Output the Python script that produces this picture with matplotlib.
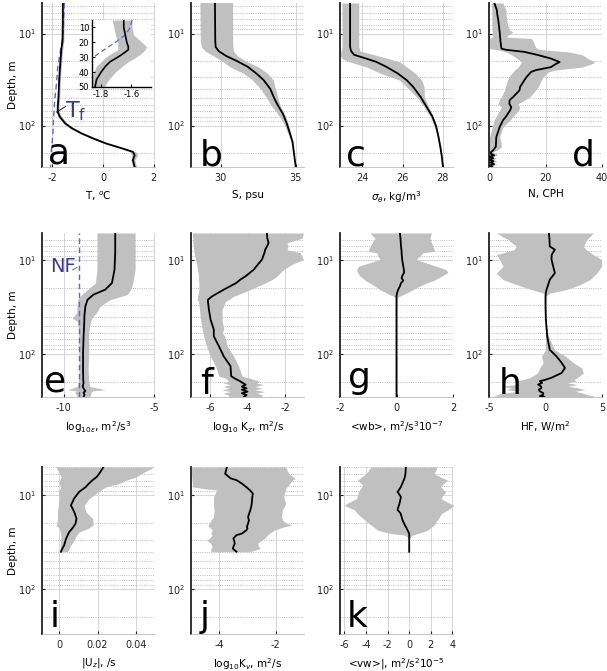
import matplotlib
matplotlib.use("Agg")
import matplotlib.pyplot as plt
from matplotlib.ticker import FixedLocator, NullFormatter, LogLocator

plt.rcParams['font.family'] = ['DejaVu Sans']
plt.rcParams['font.size'] = 7
plt.rcParams['mathtext.fontset'] = 'dejavusans'

# ---- data ----
# a: temperature
a_depth = [4.65, 7, 12, 15, 19.5, 25, 35, 49, 63, 71, 80, 95, 107, 122, 138, 157, 178, 193, 209, 238, 282]
a_mean = [-1.58, -1.58, -1.59, -1.64, -1.67, -1.70, -1.73, -1.75, -1.78, -1.78, -1.70, -1.48, -1.22, -0.83, -0.38, 0.14, 0.79, 1.18, 1.25, 1.18, 1.25]
a_lo = [-1.63, -1.63, -1.64, -1.69, -1.72, -1.75, -1.78, -1.80, -1.83, -1.84, -1.77, -1.56, -1.30, -0.92, -0.47, 0.05, 0.69, 1.06, 1.13, 1.10, 1.17]
a_hi = [-1.53, -1.53, -1.54, -1.59, -1.62, -1.65, -1.68, -1.70, -1.73, -1.72, -1.63, -1.40, -1.14, -0.74, -0.29, 0.23, 0.89, 1.30, 1.37, 1.26, 1.33]
tf_depth = [4.65, 10, 15.2, 23, 35, 53, 80, 122, 185, 282]
tf_vals = [-1.52, -1.57, -1.67, -1.78, -1.83, -1.90, -1.94, -1.97, -2.03, -2.06]

# inset of a (linear depth 5-50 m)
ins_depth = [5, 10, 15, 20, 23, 25, 28, 30, 33, 36, 40, 45, 50]
ins_mean = [-1.65, -1.65, -1.64, -1.63, -1.62, -1.62, -1.66, -1.69, -1.74, -1.77, -1.80, -1.83, -1.84]
ins_lo = [-1.727, -1.716, -1.705, -1.69, -1.69, -1.69, -1.74, -1.77, -1.80, -1.83, -1.85, -1.86, -1.86]
ins_hi = [-1.596, -1.596, -1.585, -1.53, -1.50, -1.51, -1.54, -1.57, -1.62, -1.66, -1.705, -1.75, -1.78]
ins_tf_depth = [5, 10, 15, 20, 25, 30, 35]
ins_tf = [-1.596, -1.607, -1.64, -1.705, -1.78, -1.85, -1.92]

# b: salinity
b_depth = [4.6, 12, 14, 15.5, 17.5, 20, 23, 27, 32, 40, 50, 60, 75, 95, 120, 150, 200, 282]
b_mean = [29.6, 29.62, 29.65, 29.85, 30.35, 31.1, 31.8, 32.35, 32.85, 33.3, 33.55, 33.8, 34.15, 34.4, 34.6, 34.78, 34.88, 35.0]
b_lo = [28.6, 28.62, 28.7, 28.95, 29.5, 30.1, 30.6, 31.5, 32.1, 32.65, 33.05, 33.35, 33.8, 34.2, 34.45, 34.7, 34.88, 35.0]
b_hi = [30.78, 30.78, 30.8, 30.85, 31.1, 31.7, 32.5, 33.1, 33.5, 33.65, 33.8, 33.95, 34.25, 34.5, 34.65, 34.82, 34.9, 35.0]

# c: potential density
c_depth = [4.65, 14, 15.5, 17, 18.7, 20.3, 23, 27, 32, 38, 49, 63, 80, 103, 133, 170, 220, 282]
c_mean = [23.4, 23.4, 23.45, 23.6, 24.2, 24.7, 25.2, 25.75, 26.2, 26.53, 26.9, 27.2, 27.48, 27.67, 27.78, 27.87, 27.95, 28.0]
c_lo = [23.0, 23.0, 22.95, 22.9, 23.0, 23.37, 24.2, 24.9, 25.85, 26.2, 26.7, 27.07, 27.37, 27.58, 27.73, 27.86, 27.95, 28.0]
c_hi = [23.83, 23.83, 23.9, 24.6, 25.3, 25.87, 26.2, 26.62, 26.95, 27.07, 27.08, 27.3, 27.53, 27.7, 27.8, 27.9, 27.96, 28.0]

# d: buoyancy frequency
d_depth = [4.65, 5.6, 6.1, 7.2, 8.1, 9.2, 9.6, 10.9, 11.3, 11.8, 13, 14, 14.6, 15.0, 15.8, 17.0, 18.7, 20.4,
           21.5, 23.1, 25, 26.1, 29.6, 32.2, 38, 41.4, 49, 53, 58, 63, 68, 74, 80, 87, 103, 133, 150, 170,
           185, 193, 202, 210, 218, 226, 235, 244, 252, 262, 272, 282]
d_mean = [1.9, 2.8, 2.9, 3.3, 3.5, 3.7, 3.8, 3.9, 4.0, 4.0, 4.2, 4.3, 4.5, 6.0, 12.5, 17, 22, 25,
          23.5, 22, 16.5, 14.9, 13.3, 12.5, 11, 10.8, 8.5, 7.3, 7.2, 7.9, 7.5, 6.7, 6.0, 5.0, 3.8, 2.6, 2.5, 2.4,
          1.5, 0.8, 0.6, 1.8, 0.3, 1.5, 0.2, 1.6, 0.4, 1.8, 0.3, 1.2]
d_lo = [0.8, 1.0, 1.0, 1.0, 1.0, 1.1, 1.2, 1.2, 0.2, 0.2, 0.2, 0.2, 0.3, 3.0, 6.0, 8.0, 10.0, 11.5,
        11.0, 10.3, 9.0, 8.5, 7.0, 6.5, 5.8, 5.5, 4.3, 3.6, 3.2, 4.4, 3.8, 3.0, 2.6, 1.8, 1.2, 0.2, 0.1, 0,
        0, 0, 0, 0, 0, 0, 0, 0, 0, 0, 0, 0]
d_hi = [4.9, 6.0, 6.0, 6.3, 6.6, 7.5, 8.4, 6.0, 15.0, 15.5, 16.0, 16.5, 17.0, 19.0, 28.0, 33.0, 35.0, 37.5,
        36.0, 33.0, 23.0, 21.0, 19.2, 18.5, 17.4, 16.5, 14.4, 12.5, 10.3, 10.9, 10.5, 9.5, 8.5, 7.5, 5.0, 3.8, 4.2, 4.4,
        3.0, 1.4, 2.5, 3.0, 1.2, 2.6, 1.5, 3.0, 1.0, 2.8, 1.2, 2.0]

# e: log10 epsilon
e_depth = [5.1, 8.3, 12.6, 17.5, 20.6, 23.3, 26.4, 31, 36.6, 41.5, 44.7, 55, 65, 98, 148, 190, 206, 225, 243, 250, 262, 275, 291]
e_mean = [-7.15, -7.15, -7.19, -7.33, -7.7, -8.35, -8.68, -8.8, -8.84, -8.86, -8.86, -8.88, -8.9, -8.93, -8.93, -8.92, -8.9, -8.95, -8.86, -8.8, -8.9, -8.85, -8.9]
e_lo = [-8.16, -8.16, -8.16, -8.25, -8.68, -9.0, -9.23, -9.26, -9.28, -9.54, -9.26, -9.17, -9.17, -9.15, -9.15, -9.17, -9.2, -9.25, -9.8, -9.3, -9.4, -9.3, -9.25]
e_hi = [-6.05, -6.05, -6.05, -6.18, -6.29, -6.5, -7.43, -7.98, -8.2, -8.44, -8.5, -8.6, -8.62, -8.62, -8.65, -8.62, -8.6, -8.55, -7.7, -8.4, -8.5, -8.5, -8.6]
e_noise = -9.15

# f: log10 Kz
f_depth = [5.1, 5.8, 6.5, 7.0, 7.7, 8.3, 9.8, 11.1, 12.6, 14.8, 16.1, 17.5, 20.6, 24.3, 26.4, 27.5, 33.7, 43.2,
           55, 60, 65, 83, 107, 136, 174, 183, 198, 206, 215, 225, 235, 243, 255, 265, 278, 291]
f_mean = [-2.97, -2.95, -2.88, -2.95, -3.06, -3.1, -3.23, -3.45, -3.67, -4.1, -4.38, -4.6, -5.26, -5.88, -6.1, -6.1, -6.05, -5.96,
          -5.79, -5.79, -5.79, -5.52, -5.26, -4.9, -4.87, -4.7, -4.38, -4.25, -4.1, -4.3, -4.05, -4.3, -4.0, -4.3, -4.05, -4.2]
f_lo = [-6.93, -6.9, -6.9, -6.88, -6.85, -6.84, -6.75, -6.7, -6.65, -6.6, -6.6, -6.58, -6.58, -6.65, -6.67, -6.6, -6.55, -6.49,
        -6.4, -6.36, -6.32, -6.18, -5.96, -5.7, -5.52, -5.17, -5.0, -5.3, -4.9, -5.3, -4.95, -5.35, -4.9, -5.3, -5.0, -5.0]
f_hi = [-1.03, -1.1, -1.91, -1.85, -1.9, -1.2, -1.03, -1.65, -2.09, -2.44, -2.7, -3.06, -3.85, -4.73, -5.0, -5.17, -5.35, -5.35,
        -5.26, -5.35, -5.2, -5.08, -4.73, -4.47, -4.29, -3.9, -3.32, -3.5, -3.15, -3.6, -3.2, -3.6, -3.1, -3.5, -3.2, -3.3]

# g: <wb>
g_depth = [5.1, 5.8, 7.1, 8.0, 8.3, 9.8, 11.6, 12.6, 13.5, 14.8, 15.5, 16.5, 17.5, 19.0, 20.6, 22.4, 23.3, 24.3, 25.3, 30, 291]
g_mean = [0.12, 0.14, 0.16, 0.18, 0.18, 0.2, 0.24, 0.26, 0.27, 0.2, 0.18, 0.24, 0.16, 0.12, 0.06, 0.02, 0.01, 0.0, 0.0, 0.0, 0.0]
g_lo = [-0.94, -0.76, -0.94, -1.0, -0.7, -0.59, -1.35, -1.41, -1.38, -1.29, -1.2, -1.1, -0.94, -0.75, -0.59, -0.35, -0.24, -0.1, -0.02, 0, 0]
g_hi = [1.24, 1.18, 1.29, 1.35, 0.94, 0.7, 1.41, 1.76, 1.82, 1.6, 1.47, 1.3, 1.06, 0.8, 0.59, 0.35, 0.24, 0.1, 0.02, 0, 0]

# h: heat flux
h_depth = [5.1, 6.0, 7.1, 7.7, 8.7, 9.8, 11.6, 13.7, 16.1, 18.2, 20.6, 22.4, 24.3, 31, 43, 65, 91, 107, 125, 142, 161,
           181, 190, 197, 205, 214, 224, 233, 243, 253, 264, 275, 284, 291]
h_mean = [0.3, 0.35, 0.38, 0.83, 0.55, 0.53, 0.68, 0.83, 0.38, 0.24, 0.09, 0.03, 0.0, 0.0, 0.03, 0.15, 0.38, 0.98, 1.42, 1.72, 1.42,
          0.53, 0.0, -0.5, -0.3, -0.65, -0.4, -0.36, -0.6, -0.5, -0.2, -0.2, -0.5, -0.1]
h_lo = [-4.35, -3.31, -2.57, -2.8, -4.35, -4.05, -3.76, -4.35, -3.76, -2.57, -1.24, -0.2, -0.05, 0.0, 0.0, 0.0, 0.0, -0.36, -0.2, -0.5, -0.7,
        -1.39, -2.0, -2.87, -2.4, -2.6, -4.05, -3.0, -3.5, -2.2, -3.8, -4.3, -4.6, -3.5]
h_hi = [4.23, 3.64, 3.35, 3.6, 4.23, 4.97, 4.97, 4.53, 3.93, 3.05, 1.86, 0.38, 0.05, 0.0, 0.05, 0.25, 0.8, 1.8, 2.46, 3.2, 3.35,
        2.8, 2.5, 2.75, 1.9, 2.8, 2.0, 2.9, 3.5, 2.6, 3.3, 3.7, 4.3, 4.0]

# i: |Uz|
i_depth = [5.0, 5.8, 6.4, 6.9, 7.5, 8.15, 9.2, 10.8, 12.8, 15.0, 17.7, 20.0, 20.8, 22.6, 24.6, 27.8, 30.1, 34.0, 37.8, 40.0]
i_mean = [0.0231, 0.0211, 0.0195, 0.0174, 0.0155, 0.0139, 0.0104, 0.0078, 0.0061, 0.0078, 0.009, 0.0085, 0.008, 0.0068, 0.0052, 0.004, 0.0033, 0.0026, 0.0014, 0.0009]
i_lo = [-0.0017, 0.0, 0.0009, 0.0003, 0.0, 0.0009, -0.0005, 0.0, -0.0005, -0.0009, -0.0009, -0.0012, -0.0017, 0.0, 0.0005, 0.0009, 0.0007, 0.0005, 0.0005, 0.0005]
i_hi = [0.0496, 0.0435, 0.04, 0.035, 0.0313, 0.0243, 0.0205, 0.0157, 0.013, 0.0139, 0.0174, 0.0177, 0.0177, 0.015, 0.0104, 0.0085, 0.0078, 0.0061, 0.005, 0.0043]

# j: log10 Kv
j_depth = [5.0, 5.9, 6.6, 6.9, 7.5, 8.15, 8.5, 8.8, 9.6, 10.4, 12.3, 13.3, 14.4, 17.0, 18.5, 20.0, 20.8, 21.7, 22.6, 23.6,
           25.6, 26.6, 28.9, 30.0, 32.7, 35.4, 37.0, 40.0]
j_mean = [-3.73, -3.79, -3.6, -3.39, -3.2, -3.05, -2.98, -2.92, -2.81, -2.83, -2.85, -2.87, -2.9, -2.98, -2.95, -2.98, -3.0, -3.02, -3.0, -3.04,
          -3.2, -3.39, -3.5, -3.48, -3.45, -3.5, -3.52, -3.39]
j_lo = [-4.98, -4.98, -4.97, -4.96, -4.95, -4.95, -4.54, -4.08, -4.15, -4.2, -4.2, -4.2, -4.18, -4.2, -4.3, -4.35, -4.4, -4.37, -4.3, -4.25,
        -4.3, -4.25, -4.35, -4.43, -4.3, -4.25, -4.3, -4.3]
j_hi = [-1.65, -1.54, -1.31, -1.4, -1.5, -1.6, -1.65, -1.65, -1.7, -1.72, -1.65, -1.7, -1.77, -1.8, -1.75, -1.6, -1.42, -1.7, -1.88, -2.05,
        -2.23, -2.3, -2.4, -2.5, -2.64, -2.6, -2.55, -2.92]

# k: <vw>
k_depth = [5.0, 5.9, 6.4, 6.9, 7.8, 8.15, 8.8, 9.2, 10.4, 10.9, 12.3, 12.8, 14.3, 15.6, 17.0, 18.4, 20.8, 21.7, 23.6, 25.6, 26.6, 28.9, 40.0]
k_mean = [-0.31, -0.35, -0.4, -0.5, -0.7, -0.77, -0.95, -1.08, -0.77, -0.8, -0.9, -0.95, -1.08, -0.8, -0.7, -0.62, -0.4, -0.31, -0.15, 0.0, 0.0, 0.0, 0.0]
k_lo = [-3.54, -4.0, -4.4, -4.77, -4.3, -4.4, -4.6, -4.7, -4.8, -4.9, -5.8, -6.0, -5.08, -4.8, -4.46, -4.1, -3.54, -3.3, -2.92, -1.69, -0.4, 0.0, 0.0]
k_hi = [2.6, 2.3, 2.9, 3.54, 3.0, 2.92, 3.2, 3.38, 3.0, 2.95, 3.8, 4.15, 3.6, 3.0, 2.8, 2.6, 2.3, 2.1, 1.69, 0.77, 0.3, 0.0, 0.0]

# ---- layout ----
W, H = 607, 671
BAND = '#c0c0c0'
DASH = '#6464cc'
BLUE = '#3c3c8c'
LETTER_FONT = ['Liberation Sans Narrow', 'DejaVu Sans']

fig = plt.figure(figsize=(W / 100, H / 100), dpi=100)


def px_axes(left, top, width, bottom):
    return fig.add_axes([left / W, 1 - bottom / H, width / W, (bottom - top) / H])


def profile(ax, depth, mean, lo, hi, xlim, xticks, xlabel, letter, ylim,
            letter_pos=(0.05, 0.02), letter_ha='left', ylabel=False):
    ax.fill_betweenx(depth, lo, hi, color=BAND, lw=0, zorder=1)
    ax.plot(mean, depth, color='k', lw=1.3, zorder=3)
    ax.set_yscale('log')
    ax.set_ylim(ylim)
    ax.set_xlim(xlim)
    ax.set_xticks(xticks)
    ax.set_xticklabels([str(t) for t in xticks])
    ax.yaxis.set_major_locator(FixedLocator([10, 100]))
    ax.yaxis.set_minor_locator(LogLocator(base=10, subs=range(2, 10)))
    ax.yaxis.set_minor_formatter(NullFormatter())
    ax.set_axisbelow(True)
    ax.grid(True, which='major', axis='both', color='#d6d6d6', lw=0.7, ls='-')
    ax.grid(True, which='minor', axis='y', color='#a8a8a8', lw=0.6, ls=':')
    for s in ['top', 'right']:
        ax.spines[s].set_visible(False)
    ax.spines['left'].set_color('#222222')
    ax.spines['left'].set_linewidth(1.3)
    ax.spines['bottom'].set_color('#bbbbbb')
    ax.spines['bottom'].set_linewidth(0.6)
    ax.tick_params(axis='both', which='major', length=2, direction='in', labelsize=7, pad=4, colors='#222222')
    ax.tick_params(axis='y', which='minor', length=0)
    ax.set_xlabel(xlabel, fontsize=7.5, labelpad=5)
    if ylabel:
        ax.set_ylabel('Depth, m', fontsize=7.5, labelpad=0)
    ax.text(letter_pos[0], letter_pos[1], letter, transform=ax.transAxes, fontsize=26,
            family=LETTER_FONT, ha=letter_ha, va='baseline', zorder=5)


lefts = [42, 191, 340, 489]
PW = 113
row1, row2, row3 = (3, 167), (233, 397), (467, 634)
yl1, yl2, yl3 = (282, 4.65), (291, 5.1), (301, 5.0)

ax_a = px_axes(lefts[0], row1[0], PW, row1[1])
profile(ax_a, a_depth, a_mean, a_lo, a_hi, (-2.4, 2.05), [-2, 0, 2], r'T, $^o$C', 'a', yl1,
        letter_pos=(0.053, 0.024), ylabel=True)
ax_a.plot(tf_vals, tf_depth, color=DASH, lw=1, dashes=(4, 2.5), zorder=2)
ax_a.text(0.2, 0.30, r'T$_\mathregular{f}$', transform=ax_a.transAxes, fontsize=16, color=BLUE,
          va='baseline', zorder=5)
ax_a.plot([0.13, 0.21], [0.335, 0.37], transform=ax_a.transAxes, color='k', lw=0.6, zorder=5)

ax_b = px_axes(lefts[1], row1[0], PW, row1[1])
profile(ax_b, b_depth, b_mean, b_lo, b_hi, (28.0, 35.55), [30, 35], 'S, psu', 'b', yl1,
        letter_pos=(0.08, 0.012))

ax_c = px_axes(lefts[2], row1[0], PW, row1[1])
profile(ax_c, c_depth, c_mean, c_lo, c_hi, (22.9, 28.5), [24, 26, 28], r'$\sigma_\theta$, kg/m$^3$', 'c', yl1,
        letter_pos=(0.053, 0.012))

ax_d = px_axes(lefts[3], row1[0], PW, row1[1])
profile(ax_d, d_depth, d_mean, d_lo, d_hi, (0, 40), [0, 20, 40], 'N, CPH', 'd', yl1,
        letter_pos=(0.94, 0.01), letter_ha='right')

ax_e = px_axes(lefts[0], row2[0], PW, row2[1])
profile(ax_e, e_depth, e_mean, e_lo, e_hi, (-11.2, -4.95), [-10, -5], r'log$_{10\epsilon}$, m$^2$/s$^3$', 'e', yl2,
        letter_pos=(0.02, 0.032), ylabel=True)
ax_e.axvline(e_noise, color=DASH, lw=1, dashes=(4, 2.5), zorder=2)
ax_e.text(0.07, 0.76, 'NF', transform=ax_e.transAxes, fontsize=14, color=BLUE, va='baseline', zorder=5)
ax_e.plot([0.27, 0.31], [0.775, 0.79], transform=ax_e.transAxes, color='#555555', lw=0.6, zorder=5)

ax_f = px_axes(lefts[1], row2[0], PW, row2[1])
profile(ax_f, f_depth, f_mean, f_lo, f_hi, (-7, -1), [-6, -4, -2], r'log$_{10}$ K$_z$, m$^2$/s', 'f', yl2,
        letter_pos=(0.08, 0.02))

ax_g = px_axes(lefts[2], row2[0], PW, row2[1])
profile(ax_g, g_depth, g_mean, g_lo, g_hi, (-2, 2), [-2, 0, 2], r'<wb>, m$^2$/s$^3$10$^{-7}$', 'g', yl2,
        letter_pos=(0.07, 0.055))

ax_h = px_axes(lefts[3], row2[0], PW, row2[1])
profile(ax_h, h_depth, h_mean, h_lo, h_hi, (-5, 5), [-5, 0, 5], r'HF, W/m$^2$', 'h', yl2,
        letter_pos=(0.09, 0.02))

ax_i = px_axes(lefts[0], row3[0], PW, row3[1])
profile(ax_i, i_depth, i_mean, i_lo, i_hi, (-0.009, 0.05), [0, 0.02, 0.04], r'|U$_z$|, /s', 'i', yl3,
        letter_pos=(0.07, 0.04), ylabel=True)

ax_j = px_axes(lefts[1], row3[0], PW, row3[1])
profile(ax_j, j_depth, j_mean, j_lo, j_hi, (-5, -1), [-4, -2], r'log$_{10}$K$_v$, m$^2$/s', 'j', yl3,
        letter_pos=(0.08, 0.04))

ax_k = px_axes(lefts[2], row3[0], PW, row3[1])
profile(ax_k, k_depth, k_mean, k_lo, k_hi, (-6.4, 4.05), [-6, -4, -2, 0, 2, 4], r'<vw>|, m$^2$/s$^2$10$^{-5}$', 'k', yl3,
        letter_pos=(0.06, 0.04))

# inset in panel a
ins = px_axes(92, 20, 59, 87)
ins.fill_betweenx(ins_depth, ins_lo, ins_hi, color=BAND, lw=0, zorder=1)
ins.plot(ins_mean, ins_depth, color='k', lw=1.2, zorder=3)
ins.plot(ins_tf, ins_tf_depth, color=DASH, lw=0.9, dashes=(4, 2.5), zorder=2)
ins.set_xlim(-1.86, -1.47)
ins.set_ylim(50, 5)
ins.set_xticks([-1.8, -1.6])
ins.set_xticklabels(['-1.8', '-1.6'])
ins.set_yticks([10, 20, 30, 40, 50])
ins.tick_params(labelsize=6, length=2, direction='in', pad=2)
for s in ['top', 'right']:
    ins.spines[s].set_visible(False)
ins.spines['left'].set_linewidth(1.0)
ins.spines['bottom'].set_linewidth(1.0)

fig.savefig('out.png', dpi=100)
